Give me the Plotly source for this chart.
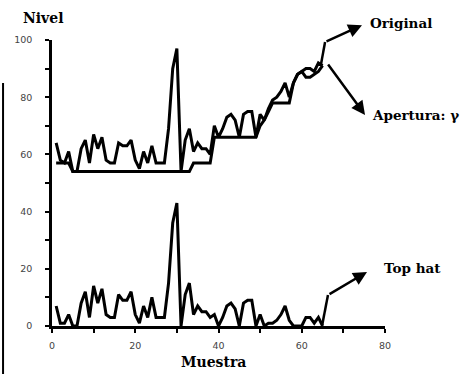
import plotly.graph_objects as go

muestra = list(range(1, 66))
original = [64, 58, 57, 61, 54, 54, 62, 65, 57, 67, 62, 66, 58, 57, 57, 64, 63, 63, 65, 58,
            55, 61, 57, 63, 57, 57, 57, 69, 90, 97, 54, 65, 69, 61, 64, 62, 62, 60, 70, 66,
            69, 73, 74, 72, 66, 74, 75, 75, 66, 74, 72, 76, 79, 80, 82, 85, 80, 85, 88, 89,
            90, 90, 89, 92, 91]
apertura = [57, 57, 57, 57, 54, 54, 54, 54, 54, 54, 54, 54, 54, 54, 54, 54, 54, 54, 54, 54,
            54, 54, 54, 54, 54, 54, 54, 54, 54, 54, 54, 54, 54, 57, 57, 57, 57, 57, 66, 66,
            66, 66, 66, 66, 66, 66, 66, 66, 66, 70, 72, 75, 78, 78, 78, 78, 78, 85, 88, 89,
            87, 87, 88, 89, 91]
top_hat = [7, 1, 1, 4, 0, 0, 8, 12, 3, 14, 8, 13, 4, 3, 3, 11, 9, 9, 12, 4,
           1, 7, 3, 10, 3, 3, 3, 15, 36, 43, 0, 11, 15, 4, 7, 5, 5, 3, 4, 0,
           3, 7, 8, 6, 0, 8, 9, 9, 0, 4, 0, 1, 1, 2, 4, 7, 2, 0, 0, 0,
           3, 3, 1, 3, 0]

x_ticks = [0, 10, 20, 30, 40, 50, 60, 70, 80]
x_labels = ["0", "", "20", "", "40", "", "60", "", "80"]
y_ticks = [0, 10, 20, 30, 40, 50, 60, 70, 80, 90, 100]
y_labels = ["0", "", "20", "", "40", "", "60", "", "80", "", "100"]

serif = "DejaVu Serif"
line_style = dict(color="black", width=3)

fig = go.Figure()
fig.add_trace(go.Scatter(x=muestra, y=apertura, mode="lines", line=line_style, name="Apertura"))
fig.add_trace(go.Scatter(x=muestra, y=original, mode="lines", line=line_style, name="Original"))
fig.add_trace(go.Scatter(x=muestra, y=top_hat, mode="lines", line=line_style, name="Top hat"))

axis_common = dict(showgrid=False, zeroline=False, showline=True, linecolor="black", linewidth=2.5,
                   ticks="outside", ticklen=4, tickwidth=2, tickcolor="black", automargin=False,
                   tickfont=dict(family="DejaVu Sans", size=9.5, color="#444"))
fig.update_xaxes(range=[0, 80], tickmode="array", tickvals=x_ticks, ticktext=x_labels,
                 ticklabelstandoff=5, **axis_common)
fig.update_yaxes(range=[0, 100], tickmode="array", tickvals=y_ticks, ticktext=y_labels,
                 ticklabelstandoff=11, **axis_common)

arrow = dict(xref="paper", yref="paper", axref="pixel", ayref="pixel", text="", showarrow=True,
             arrowhead=2, arrowsize=1.1, arrowwidth=2.5, arrowcolor="black")
anns = [
    dict(x=0.931, y=1.052, ax=-37, ay=17, **arrow),
    dict(x=0.940, y=0.738, ax=-38, ay=-52, **arrow),
    dict(x=0.946, y=0.189, ax=-39, ay=23, **arrow),
]
lab = dict(family=serif, size=13.5, color="black")
txt = dict(xref="paper", yref="paper", showarrow=False, yanchor="middle")
anns += [
    dict(x=0.949, y=1.059, text="<b>Original</b>", xanchor="left", font=lab, **txt),
    dict(x=0.955, y=0.738, text="<b>Apertura: γ</b>", xanchor="left", font=lab, **txt),
    dict(x=0.991, y=0.203, text="<b>Top hat</b>", xanchor="left", font=lab, **txt),
    dict(x=-0.092, y=1.077, text="<b>Nivel</b>", xanchor="left",
         font=dict(family=serif, size=14, color="black"), **txt),
    dict(x=0.486, y=-0.126, text="<b>Muestra</b>", xanchor="center",
         font=dict(family=serif, size=14, color="black"), **txt),
]

shapes = [
    dict(type="line", xref="x", yref="y", x0=64.6, y0=91.3, x1=65.6, y1=99.3,
         line=dict(color="black", width=2.5)),
    dict(type="line", xref="x", yref="y", x0=64.9, y0=0.3, x1=66.3, y1=10.8,
         line=dict(color="black", width=2.5)),
    dict(type="line", xref="paper", yref="paper", x0=-0.147, y0=0.85, x1=-0.147, y1=-0.168,
         line=dict(color="black", width=2)),
]

fig.update_layout(width=472, height=374, margin=dict(l=52, r=87, t=40, b=48),
                  paper_bgcolor="white", plot_bgcolor="white", showlegend=False,
                  annotations=anns, shapes=shapes)

fig.write_html("out.html", config={"displayModeBar": False},
               post_script="document.body.style.margin='0';document.body.style.overflow='hidden';")
